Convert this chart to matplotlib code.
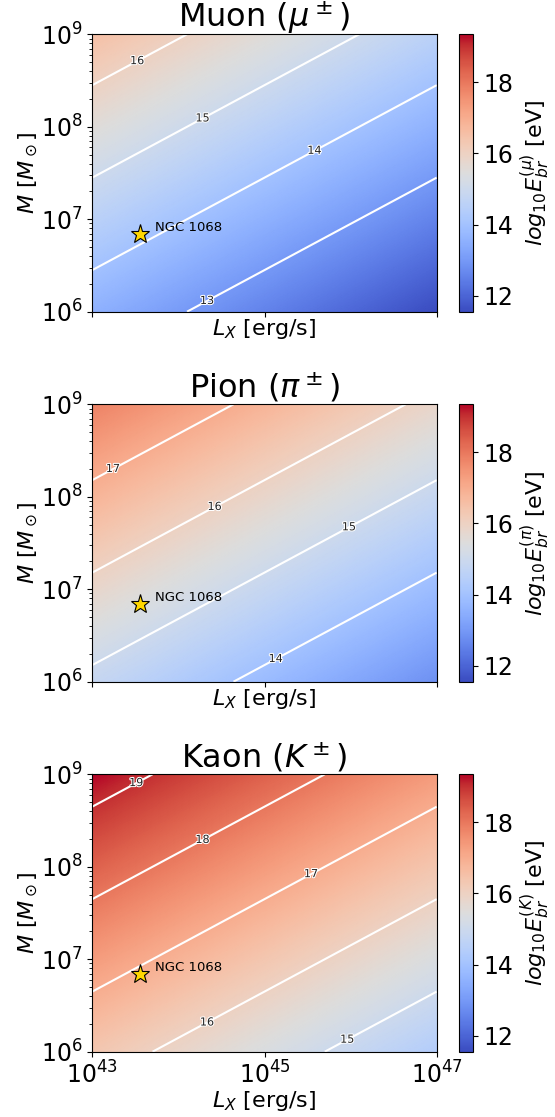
import numpy as np
import matplotlib
matplotlib.use("Agg")
import matplotlib.pyplot as plt
import matplotlib.patheffects as pe
from matplotlib.ticker import NullLocator

# break energy scaling: log10 E = logE0 + idx_M*(log M - 6) + idx_L*(log L - 43)
particles = ["mu", "pi", "K"]
titles = [r"Muon ($\mu^\pm$)", r"Pion ($\pi^\pm$)", r"Kaon ($K^\pm$)"]
cbar_labels = [r"$log_{10}E_{br}^{(\mu)}$ [eV]",
               r"$log_{10}E_{br}^{(\pi)}$ [eV]",
               r"$log_{10}E_{br}^{(K)}$ [eV]"]
logE0 = [13.55, 14.82, 16.35]
idx_M = 1.0
idx_L = -0.5

# contour levels drawn in each panel
levels = [[13, 14, 15, 16],
          [14, 15, 16, 17],
          [15, 16, 17, 18, 19]]

# where the contour labels sit (log10 L, log10 M)
label_pos = [[(43.53, 8.71), (44.29, 8.09), (45.58, 7.74), (44.33, 6.13)],
             [(43.24, 8.30), (44.40, 7.89), (45.98, 7.67), (45.13, 6.26)],
             [(43.55, 8.905), (44.30, 8.29), (45.54, 7.92), (44.33, 6.32), (45.96, 6.14)]]

# NGC 1068
L_ngc = 10**43.55
M_ngc = 10**6.84

logL = np.linspace(43, 47, 300)
logM = np.linspace(6, 9, 300)
LL, MM = np.meshgrid(logL, logM)

vmin, vmax = 11.55, 19.35

fig = plt.figure(figsize=(5.55, 11.17), dpi=100)

W, H = 555.0, 1117.0
ax_left, ax_right = 92.3, 436.7
cb_left, cb_w = 459.3, 14.0
ax_h = 277.4
bottoms = [311.7, 681.7, 1051.7]

for i in range(3):
    b = (H - bottoms[i]) / H
    ax = fig.add_axes([ax_left / W, b, (ax_right - ax_left) / W, ax_h / H])
    cax = fig.add_axes([cb_left / W, b, cb_w / W, ax_h / H])

    Z = logE0[i] + idx_M * (MM - 6) + idx_L * (LL - 43)

    mesh = ax.pcolormesh(10**LL, 10**MM, Z, cmap="coolwarm", vmin=vmin, vmax=vmax,
                         shading="gouraud", rasterized=True)
    cs = ax.contour(10**LL, 10**MM, Z, levels=levels[i], colors="white", linewidths=1.5)
    pos = [(10**x, 10**y) for x, y in label_pos[i]]
    lbls = ax.clabel(cs, fmt="%d", fontsize=8, colors="#222222", manual=pos, inline=False)
    for t in lbls:
        t.set_rotation(0)
        t.set_path_effects([pe.withStroke(linewidth=1.5, foreground="white")])

    ax.set_xscale("log")
    ax.set_yscale("log")
    ax.set_xlim(1e43, 1e47)
    ax.set_ylim(1e6, 1e9)
    ax.set_xticks([1e43, 1e45, 1e47])
    ax.xaxis.set_minor_locator(NullLocator())
    ax.tick_params(labelsize=17)
    if i < 2:
        ax.tick_params(axis="x", labelbottom=False)
    ax.set_xlabel(r"$L_X$ [erg/s]", fontsize=16, labelpad=0)

    ax.plot(L_ngc, M_ngc, marker="*", ms=14, mfc="gold", mec="k", mew=0.8, ls="none")
    ax.annotate("NGC 1068", (L_ngc, M_ngc), xytext=(11, 5), textcoords="offset points",
                fontsize=9.5, va="center")

    ax.set_title(titles[i], fontsize=23, pad=5)
    ax.set_ylabel(r"$M$ [$M_\odot$]", fontsize=16, labelpad=1)

    cb = fig.colorbar(mesh, cax=cax, ticks=[12, 14, 16, 18])
    cb.ax.tick_params(labelsize=17)
    cb.set_label(cbar_labels[i], fontsize=16)

fig.savefig("out.png", dpi=100)
